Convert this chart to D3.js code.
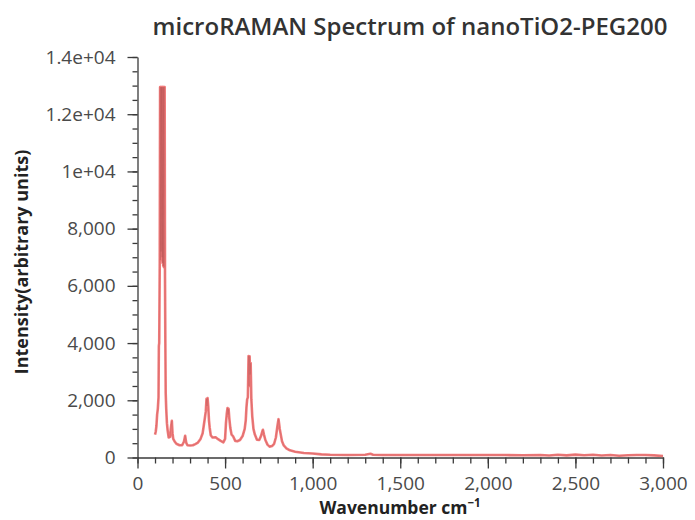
<!DOCTYPE html>
<html>
<head>
<meta charset="utf-8">
<script src="https://cdn.jsdelivr.net/npm/d3@7"></script>
<style>
  body { margin: 0; background: #fff; }
  svg { display: block; }
</style>
</head>
<body>
<svg id="chart" width="695" height="520"></svg>
<script>
// ---- Data ----
const wavenumber = [
  100, 104, 108, 112, 116, 120, 122, 124, 127, 129,
  131, 133, 135, 137, 139, 141, 143, 145, 147, 149,
  151, 153, 155, 157, 159, 161, 164, 168, 172, 178,
  186, 190, 196, 200, 204, 212, 222, 240, 255, 265,
  272, 278, 285, 300, 316, 330, 345, 360, 372, 378,
  385, 390, 394, 397, 400, 404, 408, 412, 418, 428,
  446, 460, 475, 490, 500, 505, 510, 514, 517, 520,
  524, 530, 537, 545, 558, 570, 585, 600, 612, 618,
  622, 626, 630, 634, 637, 640, 643, 646, 650, 655,
  662, 670, 682, 695, 705, 712, 716, 722, 730, 742,
  754, 768, 780, 790, 796, 800, 805, 808, 812, 818,
  825, 835, 850, 870, 900, 950, 1000, 1050, 1100, 1200,
  1300, 1330, 1345, 1400, 1500, 1600, 1700, 1800, 1900, 2000,
  2100, 2200, 2300, 2350, 2400, 2450, 2500, 2550, 2600, 2650,
  2700, 2750, 2800, 2850, 2900, 2950, 3000
];
const intensity = [
  800, 900, 1100, 1500, 1700, 2100, 3900, 4000, 6800, 12950,
  6900, 12950, 7200, 12950, 7000, 12950, 6800, 12950, 6700, 12950,
  6650, 12950, 12950, 6300, 4000, 2250, 1700, 1200, 950, 700,
  720, 1000, 1280, 850, 650, 560, 480, 430, 430, 550,
  760, 520, 430, 420, 430, 470, 520, 650, 850, 1100,
  1400, 1620, 2050, 1800, 2080, 1780, 1300, 1050, 780, 700,
  710, 640, 580, 530, 650, 1200, 1550, 1730, 1500, 1700,
  1380, 1030, 800, 750, 580, 570, 610, 750, 1000, 1300,
  1750, 2030, 2100, 3550, 2500, 3540, 2900, 3300, 2030, 1450,
  1000, 800, 620, 610, 750, 900, 970, 800, 610, 450,
  380, 400, 480, 700, 970, 1150, 1340, 1200, 1000, 800,
  570, 420, 320, 250, 200, 160, 140, 110, 95, 90,
  95, 130, 95, 90, 85, 88, 85, 90, 85, 88,
  85, 80, 90, 70, 95, 75, 100, 80, 95, 70,
  90, 60, 80, 90, 85, 75, 50
];
const xTickValues = [0, 500, 1000, 1500, 2000, 2500, 3000];
const xTickLabels = ["0", "500", "1,000", "1,500", "2,000", "2,500", "3,000"];
const yTickValues = [0, 2000, 4000, 6000, 8000, 10000, 12000, 14000];
const yTickLabels = ["0", "2,000", "4,000", "6,000", "8,000", "1e+04", "1.2e+04", "1.4e+04"];
const titleText = "microRAMAN Spectrum of nanoTiO2-PEG200";
const xTitle = "Wavenumber cm";
const xTitleSup = "\u22121";
const yTitle = "Intensity(arbitrary units)";

// ---- Layout ----
const W = 695, H = 520;
const margin = { top: 57, right: 32, bottom: 62.5, left: 137.5 };
const svg = d3.select("#chart");

const x = d3.scaleLinear().domain([0, 3000]).range([margin.left, W - margin.right]);
const y = d3.scaleLinear().domain([0, 14000]).range([H - margin.bottom, margin.top]);

const axisColor = "#3a3a3a";
const labelColor = "#4a4a4a";
const tickFont = "'Open Sans', sans-serif";

// X axis: minor ticks every 100, major every 500
const xAxisG = svg.append("g").attr("transform", `translate(0,${H - margin.bottom})`);
xAxisG.call(d3.axisBottom(x).tickValues(d3.range(0, 3001, 100)).tickSize(6).tickFormat(""));
xAxisG.call(g => g.select(".domain").remove());
const xMajor = svg.append("g").attr("transform", `translate(0,${H - margin.bottom})`)
  .call(d3.axisBottom(x).tickValues(xTickValues).tickSize(11).tickPadding(8)
    .tickFormat((d, i) => xTickLabels[i]).tickSizeOuter(0));
[xAxisG, xMajor].forEach(g => {
  g.selectAll("line").attr("stroke", axisColor).attr("stroke-width", 1.3);
  g.select(".domain").attr("stroke", axisColor).attr("stroke-width", 1.3);
});
xMajor.selectAll("text").attr("fill", labelColor).style("font-family", tickFont)
  .style("font-size", "19px");

// Y axis: minor ticks every 500, major every 2000
const yAxisG = svg.append("g").attr("transform", `translate(${margin.left},0)`);
yAxisG.call(d3.axisLeft(y).tickValues(d3.range(0, 14001, 500)).tickSize(5).tickFormat(""));
yAxisG.call(g => g.select(".domain").remove());
const yMajor = svg.append("g").attr("transform", `translate(${margin.left},0)`)
  .call(d3.axisLeft(y).tickValues(yTickValues).tickSize(10).tickPadding(12)
    .tickFormat((d, i) => yTickLabels[i]).tickSizeOuter(0));
[yAxisG, yMajor].forEach(g => {
  g.selectAll("line").attr("stroke", axisColor).attr("stroke-width", 1.3);
  g.select(".domain").attr("stroke", axisColor).attr("stroke-width", 1.3);
});
yMajor.selectAll("text").attr("fill", labelColor).style("font-family", tickFont)
  .style("font-size", "19px");

// ---- Spectrum line ----
const pts = wavenumber.map((w, i) => [w, intensity[i]]);
const line = d3.line().x(d => x(d[0])).y(d => y(d[1]));
svg.append("path").datum(pts)
  .attr("d", line)
  .attr("fill", "none")
  .attr("stroke", "#f07070")
  .attr("stroke-width", 2.6)
  .attr("stroke-linejoin", "round")
  .attr("opacity", 0.92);
svg.append("path").datum(pts)
  .attr("d", line)
  .attr("fill", "none")
  .attr("stroke", "#9a4545")
  .attr("stroke-width", 0.6)
  .attr("stroke-linejoin", "round")
  .attr("opacity", 0.35);

// ---- Titles ----
svg.append("text")
  .attr("x", 410).attr("y", 35)
  .attr("text-anchor", "middle")
  .attr("fill", "#333")
  .style("font-family", "'Open Sans', sans-serif")
  .style("font-weight", 600)
  .style("font-size", "24px")
  .text(titleText);

const xt = svg.append("text")
  .attr("x", 400).attr("y", 514)
  .attr("text-anchor", "middle")
  .attr("fill", "#222")
  .style("font-family", "'Open Sans', sans-serif")
  .style("font-weight", 700)
  .style("font-size", "17.5px");
xt.append("tspan").text(xTitle);
xt.append("tspan").attr("dy", -7).style("font-size", "11.5px").text(xTitleSup);

svg.append("text")
  .attr("transform", `translate(28,262) rotate(-90)`)
  .attr("text-anchor", "middle")
  .attr("fill", "#222")
  .style("font-family", "'Open Sans', sans-serif")
  .style("font-weight", 700)
  .style("font-size", "18px")
  .text(yTitle);
</script>
</body>
</html>
